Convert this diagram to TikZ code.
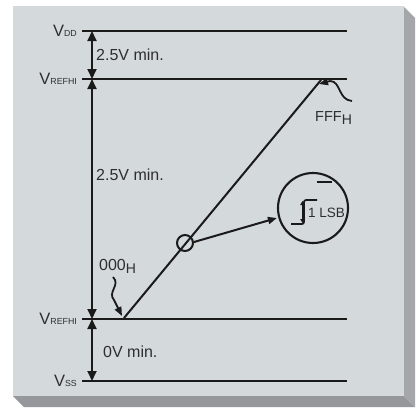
\documentclass[tikz,border=0pt]{standalone}
\usepackage{fontspec}
\setmainfont{Liberation Sans}
\usetikzlibrary{arrows.meta}
\definecolor{ink}{HTML}{1A1A1A}
\definecolor{txtc}{HTML}{2E2E2E}
\definecolor{face}{HTML}{D4D9DC}
\definecolor{shadeR}{HTML}{A4A6A8}
\definecolor{shadeB}{HTML}{95979A}
\newcommand\Vlab[1]{{\fontsize{16.5}{16}\selectfont V}{\fontsize{8.8}{9}\selectfont #1}}
\newcommand\Hsub{\raisebox{-3pt}{\fontsize{14}{14}\selectfont H}}
\begin{document}
\begin{tikzpicture}[x=1pt,y=-1pt,
  lvl/.style={line width=2.8pt, draw=ink},
  dimarrow/.style={line width=1.8pt, draw=ink, {Triangle[length=10pt,width=9pt]}-{Triangle[length=10pt,width=9pt]}},
  lab/.style={anchor=base east, text=txtc, inner sep=0pt},
  txt/.style={anchor=base west, text=txtc, inner sep=0pt, font=\fontsize{16}{16}\selectfont},
  thin/.style={line width=2pt, draw=ink},
  squig/.style={line width=1.8pt, draw=ink, -{Triangle[length=9pt,width=7pt]}}]
\useasboundingbox (0,0) rectangle (420,410);
\fill[white] (0,0) rectangle (420,410);
% panel
\fill[shadeR] (404,7) -- (415,18) -- (415,407) -- (404,396) -- cycle;
\fill[shadeB] (13,396) -- (404,396) -- (415,407) -- (24,407) -- cycle;
\fill[face] (13,6) rectangle (404,396);
% level coordinates
\coordinate (vddL) at (82,31);   \coordinate (vddR) at (347,31);
\coordinate (rhL) at (82,79);    \coordinate (rhR) at (347,79);
\coordinate (rlL) at (82,319);   \coordinate (rlR) at (347,319);
\coordinate (vssL) at (82,381);  \coordinate (vssR) at (347,381);
\draw[lvl] (vddL) -- (vddR);
\draw[lvl] (rhL) -- (rhR);
\draw[lvl] (rlL) -- (rlR);
\draw[lvl] (vssL) -- (vssR);
% labels
\node[lab] (lvdd) at (77,36.5) {\Vlab{DD}};
\node[lab] (lrh) at (77,84.5) {\Vlab{REFHI}};
\node[lab] (lrl) at (77,324.5) {\Vlab{REFHI}};
\node[lab] (lvss) at (77,386.5) {\Vlab{SS}};
% dimension arrows
\coordinate (d1) at (92,31); \coordinate (d2) at (92,79);
\coordinate (d3) at (92,319); \coordinate (d4) at (92,381);
\draw[dimarrow] (d1) -- (d2);
\draw[dimarrow] (d2) -- (d3);
\draw[dimarrow] (d3) -- (d4);
\node[txt] (t1) at (96,60) {2.5V min.};
\node[txt] (t2) at (96,180) {2.5V min.};
\node[txt] (t3) at (103,357) {0V min.};
% transfer line
\coordinate (start) at (124,318);
\coordinate (stop) at (321,80);
\draw[thin] (start) -- (stop);
% small circle
\node[circle, draw=ink, line width=2pt, minimum size=16pt, inner sep=0pt] (sc) at (185,243) {};
% big circle
\node[circle, draw=ink, line width=2.1pt, minimum size=70pt, inner sep=0pt] (bc) at (313,208) {};
\draw[thin, -{Triangle[length=9pt,width=7pt]}] (sc.east) ++(0,-1) -- (bc.west |- 0,218);
% step inside
\coordinate (s1) at (291,224); \coordinate (s2) at (304,224);
\coordinate (s3) at (304,200); \coordinate (s4) at (317,200);
\draw[line width=1.7pt, draw=ink, rounded corners=2pt] (s1) -- (s2) -- (s3) -- (s4);
\coordinate (a1) at (302.5,201); \coordinate (a2) at (302.5,223);
\draw[line width=0.9pt, draw=ink, {Triangle[length=4pt,width=4.5pt]}-{Triangle[length=4pt,width=4.5pt]}] (a1) -- (a2);
\coordinate (m1) at (317,182); \coordinate (m2) at (332,182);
\draw[line width=1.7pt, draw=ink] (m1) -- (m2);
\node[anchor=base west, text=txtc, inner sep=0pt, font=\fontsize{13.5}{14}\selectfont] (lsb) at (308,217) {1 LSB};
% code labels
\node[txt] (c0) at (99,270) {000\Hsub};
\node[txt, font=\fontsize{14.5}{15}\selectfont] (cf) at (315,121) {FFF\Hsub};
\coordinate (q0) at (113,277); \coordinate (q0t) at (122,316);
\draw[squig] (q0) .. controls (121,285) and (107,292) .. (114,300) -- (q0t);
\coordinate (qf) at (352,101); \coordinate (qft) at (319,84);
\draw[squig] (qf) .. controls (338,100) and (341,81) .. (330,81) -- (qft);
\end{tikzpicture}
\end{document}
